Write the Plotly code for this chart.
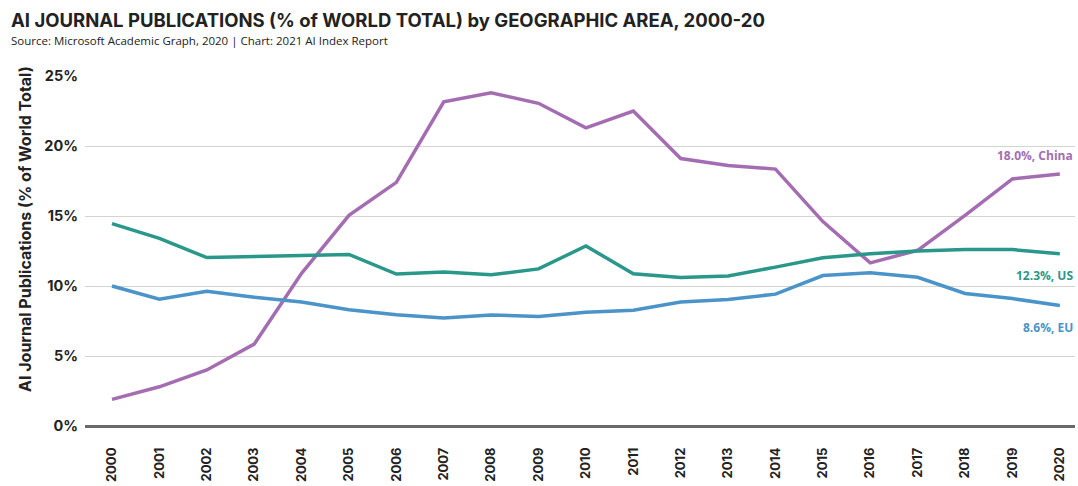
import plotly.graph_objects as go

years = list(range(2000, 2021))
china = [1.9, 2.8, 4.0, 5.85, 10.9, 15.05, 17.4, 23.15, 23.8, 23.05, 21.3, 22.5,
         19.1, 18.6, 18.35, 14.6, 11.65, 12.55, 15.05, 17.65, 18.0]
us = [14.46, 13.4, 12.03, 12.1, 12.15, 12.25, 10.85, 11.0, 10.8, 11.22, 12.86, 10.87,
      10.6, 10.72, 11.35, 12.02, 12.3, 12.5, 12.6, 12.6, 12.3]
eu = [10.0, 9.05, 9.62, 9.2, 8.85, 8.3, 7.95, 7.72, 7.93, 7.83, 8.12, 8.27,
      8.86, 9.04, 9.42, 10.75, 10.95, 10.62, 9.47, 9.1, 8.6]
y_ticks = [0, 5, 10, 15, 20, 25]
y_tick_labels = ["0%", "5%", "10%", "15%", "20%", "25%"]

series = [
    ("China", china, "#a56db1"),
    ("US", us, "#2a978b"),
    ("EU", eu, "#4a94c9"),
]

FONT = "Open Sans"
HEAD = "Inter"
W, H = 1078, 486
L, R, T, B = 85, 3, 76, 60
PW, PH = W - L - R, H - T - B


def px_x(x):
    return (x - L) / PW


def px_y(y):
    return (H - B - y) / PH


fig = go.Figure()
for name, vals, color in series:
    fig.add_trace(go.Scatter(
        x=years, y=vals, mode="lines", name=name,
        line=dict(color=color, width=3.5), cliponaxis=False,
    ))
    # end-of-line label
    fig.add_annotation(
        x=2020, y=vals[-1], xref="x", yref="y",
        text=f"<b>{vals[-1]:.1f}%, {name}</b>",
        showarrow=False, xanchor="right", yanchor="middle",
        xshift=15, yshift=(19 if name == "China" else -22),
        font=dict(family=FONT, size=12, color=color),
    )

# title and source line
fig.add_annotation(
    xref="paper", yref="paper", x=px_x(9), y=px_y(20),
    text="<b>AI JOURNAL PUBLICATIONS (% of WORLD TOTAL) by GEOGRAPHIC AREA, 2000-20</b>",
    showarrow=False, xanchor="left", yanchor="middle",
    font=dict(family=HEAD, size=18.5, color="#222"),
)
fig.add_annotation(
    xref="paper", yref="paper", x=px_x(9), y=px_y(41),
    text="Source: Microsoft Academic Graph, 2020 | Chart: 2021 AI Index Report",
    showarrow=False, xanchor="left", yanchor="middle",
    font=dict(family=FONT, size=11.5, color="#222"),
)

fig.add_annotation(
    xref="paper", yref="paper", x=px_x(25), y=px_y(229),
    text="<b>AI Journal Publications (% of World Total)</b>",
    textangle=-90, showarrow=False, xanchor="center", yanchor="middle",
    font=dict(family=HEAD, size=16, color="#222"),
)

fig.update_layout(
    width=W, height=H,
    margin=dict(l=L, r=R, t=T, b=B),
    paper_bgcolor="white", plot_bgcolor="white",
    showlegend=False,
    xaxis=dict(
        range=[1999.43, 2020.32], tickmode="array", tickvals=years,
        ticktext=[f"<b>{y}</b>" for y in years], tickangle=-90,
        showgrid=False, zeroline=False, showline=False,
        ticks="", ticklabelstandoff=18,
        tickfont=dict(family=HEAD, size=13, color="#222"),
    ),
    yaxis=dict(
        range=[0, 25], tickmode="array", tickvals=y_ticks,
        ticktext=[f"<b>{t}</b>" for t in y_tick_labels],
        showgrid=True, gridcolor="#d4d4d4", gridwidth=1,
        zeroline=True, zerolinecolor="#6a6a6a", zerolinewidth=3,
        ticks="", ticklabelstandoff=6,
        tickfont=dict(family=HEAD, size=14.5, color="#222"),
    ),
)

fig.write_html("out.html")
